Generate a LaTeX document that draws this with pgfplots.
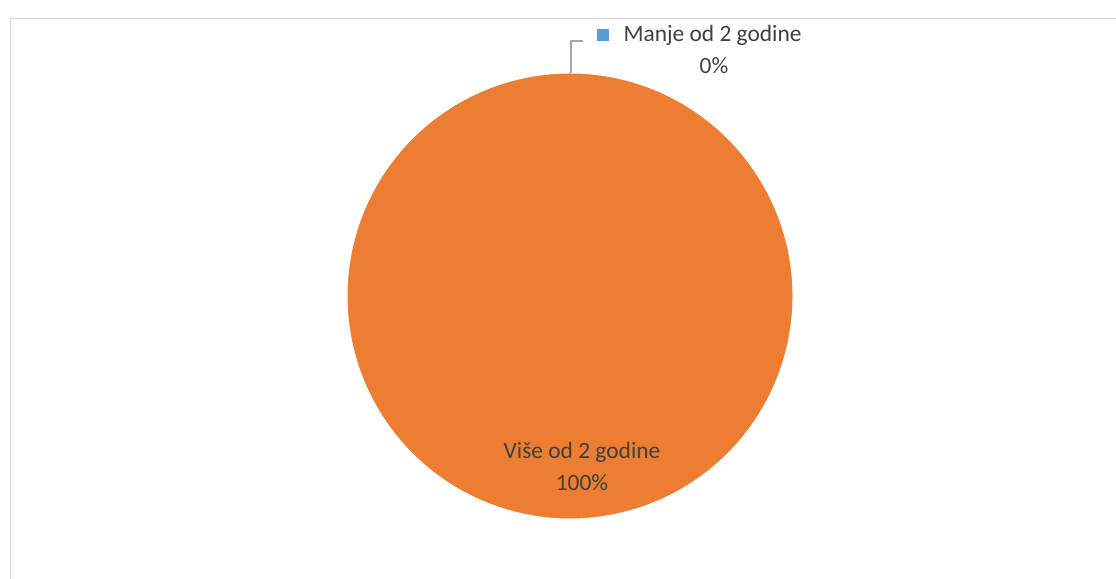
\documentclass[border=0pt]{standalone}
\usepackage{pgfplots}
\pgfplotsset{compat=1.18}
\usepackage{fontspec}
\setmainfont{Carlito}
\definecolor{pieorange}{HTML}{ED7D31}
\definecolor{pieblue}{HTML}{5B9BD5}
\definecolor{lbl}{HTML}{404040}
\definecolor{lead}{HTML}{A6A6A6}
\definecolor{frame}{HTML}{D9D9D9}
% shares (percent)
\def\valManje{0}
\def\valVise{100}
\begin{document}
\begin{tikzpicture}
\begin{axis}[
  scale only axis, width=1116bp, height=579bp,
  xmin=0, xmax=1116, ymin=0, ymax=579,
  axis line style={draw=none}, ticks=none,
  clip=true,
]
% chart frame
\addplot[draw=frame, line width=1.2pt] coordinates {(10.5,-20) (10.5,560.5) (1140,560.5)};
% pie: starts at 12 o'clock, clockwise
\pgfmathsetmacro\aA{90}
\pgfmathsetmacro\aB{90-3.6*\valManje}
\pgfmathsetmacro\aC{\aB-3.6*\valVise}
\addplot[fill=pieorange, draw=white, line width=1pt, domain=\aB:\aC, samples=361, variable=\t]
  ({570+223*cos(\t)},{283+223*sin(\t)}) -- cycle;
% leader line
\addplot[draw=lead, line width=1.2pt] coordinates {(571,506) (571,538) (583,538)};
% legend key
\addplot[only marks, mark=square*, mark size=5.5bp, mark options={fill=pieblue, draw=pieblue}] coordinates {(602.5,544)};
\node[text=lbl, font=\fontsize{23.5}{28}\selectfont, anchor=west] at (axis cs:620,544) {Manje od 2 godine};
\node[text=lbl, font=\fontsize{23.5}{28}\selectfont] at (axis cs:714,513) {0\%};
\node[text=lbl, font=\fontsize{23.5}{28}\selectfont] at (axis cs:582,127) {Više od 2 godine};
\node[text=lbl, font=\fontsize{23.5}{28}\selectfont] at (axis cs:582,96) {100\%};
\end{axis}
\end{tikzpicture}
\end{document}
